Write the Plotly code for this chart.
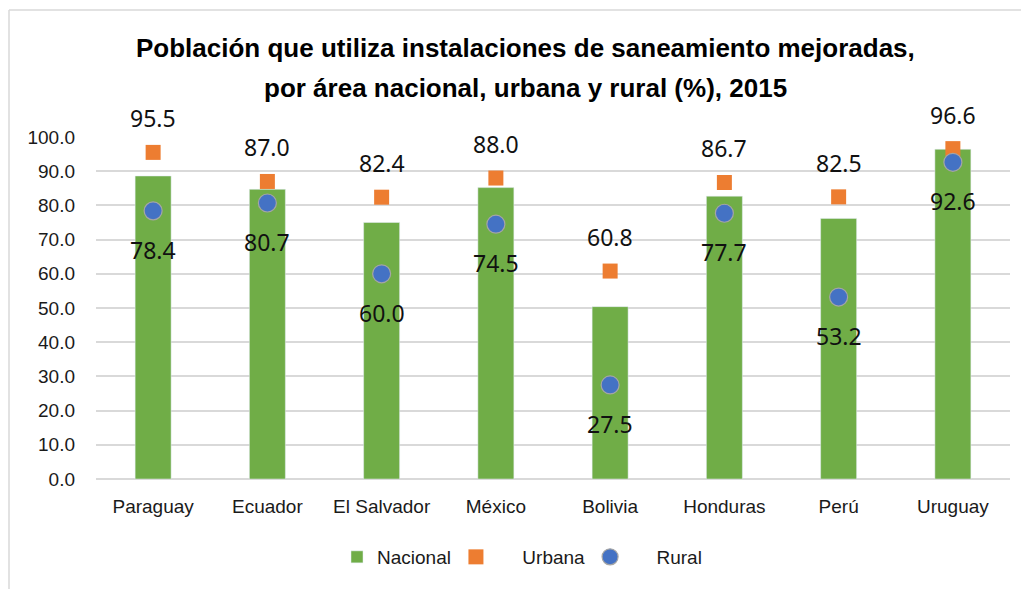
import plotly.graph_objects as go

categories = ["Paraguay", "Ecuador", "El Salvador", "México", "Bolivia", "Honduras", "Perú", "Uruguay"]
nacional = [88.6, 84.7, 75.0, 85.2, 50.4, 82.7, 76.2, 96.4]
urbana = [95.5, 87.0, 82.4, 88.0, 60.8, 86.7, 82.5, 96.6]
rural = [78.4, 80.7, 60.0, 74.5, 27.5, 77.7, 53.2, 92.6]
y_ticks = [0, 10, 20, 30, 40, 50, 60, 70, 80, 90, 100]
title_lines = ["Población que utiliza instalaciones de saneamiento mejoradas,",
               "por área nacional, urbana y rural (%), 2015"]

# page body has an 8px margin; work in window pixels and convert
OFF = 8
W, H = 1029 - OFF, 589 - OFF
L, R, T, B = 96 - OFF, 19, 137 - OFF, 110
pw, ph = W - L - R, H - T - B


def px_x(x):  # window x pixel -> paper x
    return (x - OFF - L) / pw


def px_y(y):  # window y pixel -> paper y
    return 1 - (y - OFF - T) / ph


GREEN = "#70AD47"
ORANGE = "#ED7D31"
BLUE = "#4472C4"
SANS = "Liberation Sans, Arial, sans-serif"
TICKFONT = dict(family=SANS, size=19, color="#1a1a1a")
LABELFONT = dict(family="Noto Sans, Open Sans, sans-serif", size=23, color="#111111")
PAD = "\u00a0" * 5

fig = go.Figure()
fig.add_trace(go.Bar(x=categories, y=nacional, name="Nacional", marker_color=GREEN,
                     width=0.315, hoverinfo="y"))
fig.add_trace(go.Scatter(x=categories, y=urbana, name=PAD + "Urbana", mode="markers",
                         marker=dict(symbol="square", size=15, color=ORANGE,
                                     line=dict(width=0))))
fig.add_trace(go.Scatter(x=categories, y=rural, name=PAD + "Rural", mode="markers",
                         marker=dict(symbol="circle", size=18, color=BLUE,
                                     line=dict(color="#a5a5a5", width=1.2))))

annotations = []
for c, u in zip(categories, urbana):
    annotations.append(dict(x=c, y=u, text=f"{u:.1f}", showarrow=False, yshift=34,
                            font=LABELFONT))
for c, r in zip(categories, rural):
    annotations.append(dict(x=c, y=r, text=f"{r:.1f}", showarrow=False, yshift=-39,
                            font=LABELFONT))

for line, ypix in zip(title_lines, [48, 88]):
    annotations.append(dict(
        text=f"<b>{line}</b>",
        xref="paper", yref="paper", x=px_x(525), y=px_y(ypix),
        showarrow=False, xanchor="center", yanchor="middle",
        font=dict(family=SANS, size=26, color="#000000"),
    ))

shapes = [
    dict(type="line", xref="paper", yref="paper",
         x0=px_x(9), x1=px_x(9), y0=px_y(10), y1=px_y(600),
         line=dict(color="#d9d9d9", width=1.5)),
    dict(type="line", xref="paper", yref="paper",
         x0=px_x(9), x1=px_x(1040), y0=px_y(10), y1=px_y(10),
         line=dict(color="#d9d9d9", width=1.5)),
]

fig.update_layout(
    width=W, height=H,
    margin=dict(l=L, r=R, t=T, b=B, autoexpand=False),
    paper_bgcolor="white", plot_bgcolor="white",
    showlegend=True,
    legend=dict(orientation="h", x=px_x(337), xanchor="left", y=px_y(557), yanchor="middle",
                font=dict(family=SANS, size=19, color="#1a1a1a"),
                itemwidth=30, tracegroupgap=0),
    annotations=annotations,
    shapes=shapes,
    bargap=0.5,
)
fig.update_yaxes(range=[0, 100], tickvals=y_ticks, tickformat=".1f",
                 showgrid=True, gridcolor="#d9d9d9", gridwidth=1.5,
                 zeroline=True, zerolinecolor="#d9d9d9", zerolinewidth=1.5,
                 tickfont=TICKFONT, ticks="", ticklen=0, ticklabelstandoff=20)
fig.update_xaxes(tickfont=TICKFONT, showgrid=False, showline=False, ticks="",
                 ticklabelstandoff=14)

fig.write_html("out.html")
